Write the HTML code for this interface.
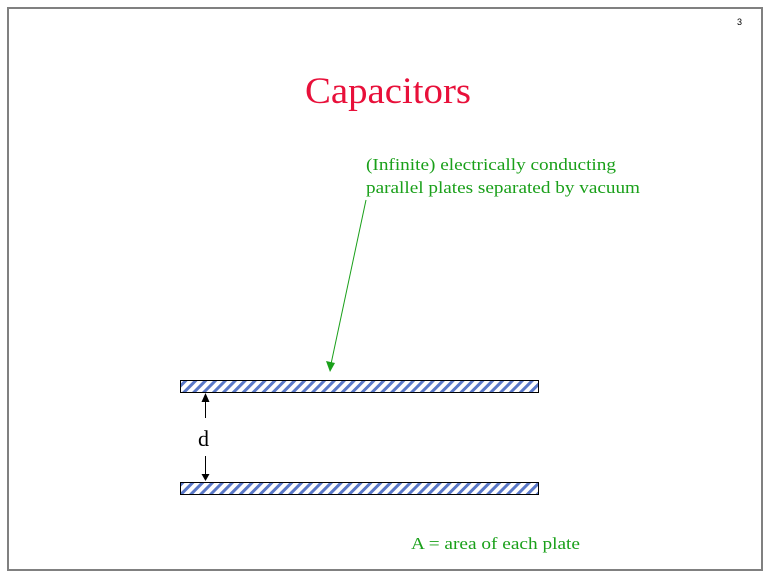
<!DOCTYPE html>
<html><head><style>
html,body{margin:0;padding:0;background:#fff;}
body{width:768px;height:576px;position:relative;overflow:hidden;font-family:"Liberation Serif",serif;}
</style></head><body>
<svg width="768" height="576" style="position:absolute;left:0;top:0">
<defs>
<pattern id="h" patternUnits="userSpaceOnUse" width="7" height="7" patternTransform="rotate(45)">
<rect width="7" height="7" fill="#fff"/><rect width="3" height="7" fill="#5a78c8"/>
</pattern>
</defs>
<rect x="8" y="8" width="754" height="562" fill="none" stroke="#808080" stroke-width="2"/>
<text x="737" y="25" font-family="Liberation Sans,sans-serif" font-size="9">3</text>
<text x="305" y="103" font-size="37" fill="#e8103a" textLength="166" lengthAdjust="spacingAndGlyphs">Capacitors</text>
<text x="366" y="170" font-size="17" fill="#1aa01a" textLength="250" lengthAdjust="spacingAndGlyphs">(Infinite) electrically conducting</text>
<text x="366" y="193" font-size="17" fill="#1aa01a" textLength="274" lengthAdjust="spacingAndGlyphs">parallel plates separated by vacuum</text>
<line x1="366" y1="200" x2="331" y2="364" stroke="#1aa01a" stroke-width="1"/>
<polygon points="330,372 326,361 335,363" fill="#1aa01a"/>
<rect x="180.5" y="380.5" width="358" height="12" fill="url(#h)" stroke="#000" stroke-width="1"/>
<rect x="180.5" y="482.5" width="358" height="12" fill="url(#h)" stroke="#000" stroke-width="1"/>
<line x1="205.5" y1="400" x2="205.5" y2="418" stroke="#000"/>
<polygon points="205.5,393 201.5,402 209.5,402" fill="#000"/>
<line x1="205.5" y1="456" x2="205.5" y2="474" stroke="#000"/>
<polygon points="205.5,481 201.5,474 209.5,474" fill="#000"/>
<text x="198" y="446" font-size="22">d</text>
<text x="411" y="549" font-size="17" fill="#1aa01a" textLength="169" lengthAdjust="spacingAndGlyphs">A = area of each plate</text>
</svg>
</body></html>
